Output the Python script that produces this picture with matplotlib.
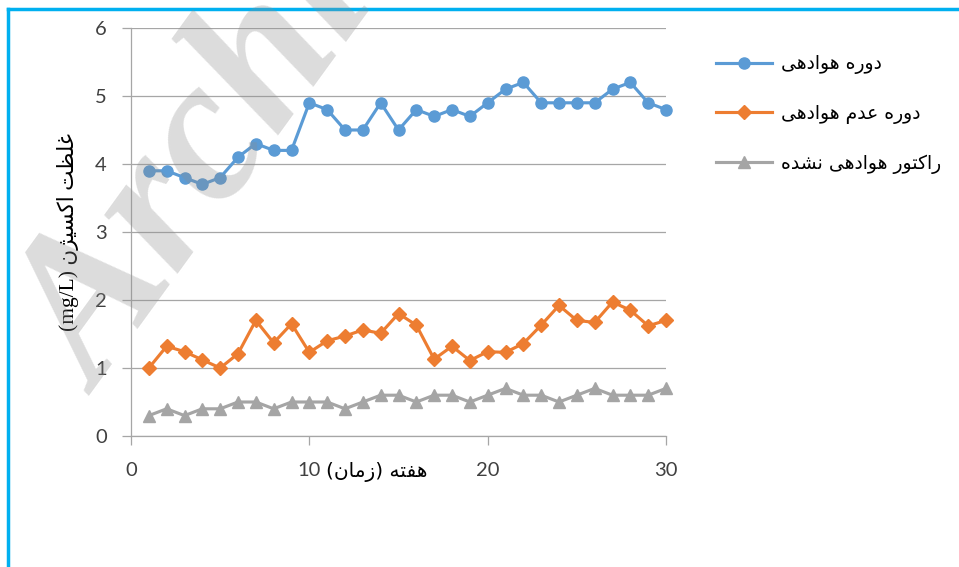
import matplotlib
matplotlib.use('Agg')
import matplotlib.pyplot as plt
from matplotlib.lines import Line2D

# weekly oxygen concentration (mg/L)
weeks = list(range(1, 31))
aerated = [3.9, 3.9, 3.8, 3.7, 3.8, 4.1, 4.3, 4.2, 4.2, 4.9,
           4.8, 4.5, 4.5, 4.9, 4.5, 4.8, 4.7, 4.8, 4.7, 4.9,
           5.1, 5.2, 4.9, 4.9, 4.9, 4.9, 5.1, 5.2, 4.9, 4.8]
non_aerated = [1.0, 1.32, 1.24, 1.12, 1.0, 1.21, 1.7, 1.37, 1.65, 1.23,
               1.4, 1.47, 1.56, 1.51, 1.8, 1.63, 1.13, 1.32, 1.11, 1.24,
               1.23, 1.36, 1.63, 1.92, 1.7, 1.67, 1.97, 1.85, 1.62, 1.7]
reactor = [0.3, 0.4, 0.3, 0.4, 0.4, 0.5, 0.5, 0.4, 0.5, 0.5,
           0.5, 0.4, 0.5, 0.6, 0.6, 0.5, 0.6, 0.6, 0.5, 0.6,
           0.7, 0.6, 0.6, 0.5, 0.6, 0.7, 0.6, 0.6, 0.6, 0.7]

x_ticks = [0, 10, 20, 30]
y_ticks = [0, 1, 2, 3, 4, 5, 6]

series_names = ['دوره هوادهی', 'دوره عدم هوادهی', 'راکتور هوادهی نشده']
x_title = 'هفته (زمان)'
y_title = 'غلظت اکسیژن'
y_unit = '(mg/L)'

# matplotlib does no arabic shaping, so pick presentation forms by hand
# (isolated, final, initial, medial); right-joining letters have no initial/medial
FORMS = {
    'ا': ('\uFE8D', '\uFE8E', None, None),
    'د': ('\uFEA9', '\uFEAA', None, None),
    'ر': ('\uFEAD', '\uFEAE', None, None),
    'ز': ('\uFEAF', '\uFEB0', None, None),
    'و': ('\uFEED', '\uFEEE', None, None),
    'ژ': ('\uFB8A', '\uFB8B', None, None),
    'ت': ('\uFE95', '\uFE96', '\uFE97', '\uFE98'),
    'س': ('\uFEB1', '\uFEB2', '\uFEB3', '\uFEB4'),
    'ش': ('\uFEB5', '\uFEB6', '\uFEB7', '\uFEB8'),
    'ظ': ('\uFEC5', '\uFEC6', '\uFEC7', '\uFEC8'),
    'ع': ('\uFEC9', '\uFECA', '\uFECB', '\uFECC'),
    'غ': ('\uFECD', '\uFECE', '\uFECF', '\uFED0'),
    'ف': ('\uFED1', '\uFED2', '\uFED3', '\uFED4'),
    'ل': ('\uFEDD', '\uFEDE', '\uFEDF', '\uFEE0'),
    'م': ('\uFEE1', '\uFEE2', '\uFEE3', '\uFEE4'),
    'ن': ('\uFEE5', '\uFEE6', '\uFEE7', '\uFEE8'),
    'ه': ('\uFEE9', '\uFEEA', '\uFEEB', '\uFEEC'),
    '\u06A9': ('\uFB8E', '\uFB8F', '\uFB90', '\uFB91'),
    '\u0643': ('\uFB8E', '\uFB8F', '\uFB90', '\uFB91'),
    '\u06CC': ('\uFBFC', '\uFBFD', '\uFBFE', '\uFBFF'),
    '\u064A': ('\uFBFC', '\uFBFD', '\uFBFE', '\uFBFF'),
}
MIRROR = {'(': ')', ')': '('}


def fa(text):
    out = []
    for i, c in enumerate(text):
        if c not in FORMS:
            out.append(MIRROR.get(c, c))
            continue
        prev = text[i - 1] if i > 0 else None
        nxt = text[i + 1] if i + 1 < len(text) else None
        join_prev = prev in FORMS and FORMS[prev][2] is not None
        join_next = FORMS[c][2] is not None and nxt in FORMS
        iso, fin, ini, med = FORMS[c]
        if join_prev and join_next:
            out.append(med)
        elif join_prev:
            out.append(fin)
        elif join_next:
            out.append(ini)
        else:
            out.append(iso)
    return ''.join(out[::-1])


fig = plt.figure(figsize=(9.59, 5.67), dpi=100)
ax = fig.add_axes([131 / 959, 131 / 567, 535 / 959, 408 / 567])

grid_color = '#A6A6A6'
text_color = '#404040'

l1, = ax.plot(weeks, aerated, color='#5B9BD5', lw=2.25, marker='o', ms=8,
              clip_on=False, zorder=3)
l2, = ax.plot(weeks, non_aerated, color='#ED7D31', lw=2.25, marker='D', ms=7,
              clip_on=False, zorder=3)
l3, = ax.plot(weeks, reactor, color='#A5A5A5', lw=2.25, marker='^', ms=8.5,
              clip_on=False, zorder=3)

ax.set_xlim(0, 30)
ax.set_ylim(0, 6)
ax.set_xticks(x_ticks)
ax.set_yticks(y_ticks)
ax.yaxis.grid(True, color=grid_color, lw=0.9)
ax.set_axisbelow(True)
for side in ['top', 'right']:
    ax.spines[side].set_visible(False)
for side in ['left', 'bottom']:
    ax.spines[side].set_color(grid_color)
    ax.spines[side].set_linewidth(0.9)
ax.tick_params(axis='both', direction='out', length=6.5, width=0.9,
               color=grid_color, labelcolor=text_color, labelsize=14.5)
ax.tick_params(axis='y', pad=11)
ax.tick_params(axis='x', pad=12)
for lab in ax.get_xticklabels() + ax.get_yticklabels():
    lab.set_family('Lato')

fig.text(377 / 959, 1 - 472 / 567, fa(x_title), ha='center', va='center',
         fontsize=14.5, family='DejaVu Sans', color='black')
fig.text(68 / 959, 1 - 232 / 567, y_unit + ' ' + fa(y_title), rotation=90,
         ha='center', va='center', fontsize=15.5,
         family=['Liberation Serif', 'DejaVu Sans'], color='black')

ax.legend([l1, l2, l3], [fa(s) for s in series_names], loc='center left',
          bbox_to_anchor=(699 / 959, 1 - 114 / 567),
          bbox_transform=fig.transFigure, frameon=False,
          handlelength=3.0, handletextpad=0.45, labelspacing=1.58,
          prop={'family': 'DejaVu Sans', 'size': 13.5})

# watermark over the plot
fig.text(100 / 959, 1 - 396 / 567, 'Archive', rotation=54, rotation_mode='anchor',
         ha='left', va='baseline', fontsize=148, family='Liberation Serif',
         weight='bold', style='italic', color='#8C8C8C', alpha=0.3, zorder=10)

# cyan frame on the top and left edges
fig.add_artist(Line2D([8 / 959, 1], [1 - 9 / 567, 1 - 9 / 567],
                      transform=fig.transFigure, color='#00B0F0', lw=2.5))
fig.add_artist(Line2D([8 / 959, 8 / 959], [0, 1 - 9 / 567],
                      transform=fig.transFigure, color='#00B0F0', lw=2.5))

fig.savefig('out.png', dpi=100)
